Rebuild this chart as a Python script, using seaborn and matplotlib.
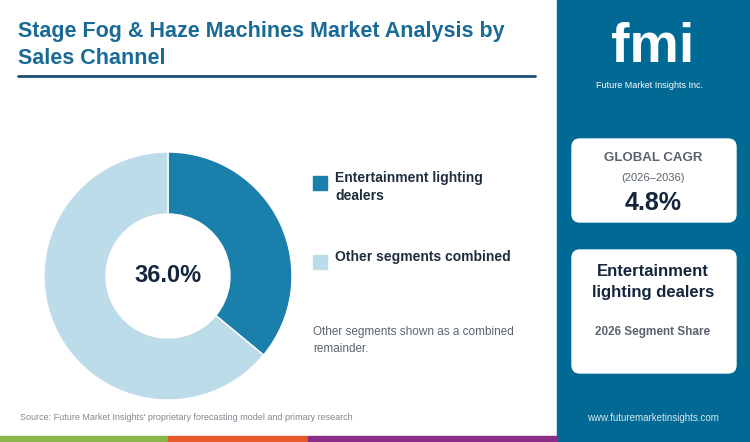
import matplotlib
matplotlib.use("Agg")
import matplotlib.pyplot as plt
import seaborn as sns
from matplotlib.patches import FancyBboxPatch, Rectangle

segments = ["Entertainment lighting dealers", "Other segments combined"]
shares = [36.0, 64.0]
cagr = "4.8%"
colors = ["#1a7fab", "#bcdcea"]

sns.set_theme(style="white")
plt.rcParams["font.family"] = ["Liberation Sans", "DejaVu Sans"]

W, H = 750, 442
fig = plt.figure(figsize=(7.5, 4.42), dpi=100)
fig.patch.set_facecolor("white")
bg = fig.add_axes([0, 0, 1, 1])
bg.set_xlim(0, W)
bg.set_ylim(H, 0)
bg.axis("off")

# right panel
bg.add_patch(Rectangle((557, 0), 193, 442, color="#006994"))
# bottom stripes
for x0, x1, c in [(0, 168, "#8ab54a"), (168, 308, "#e65a2c"), (308, 557, "#8a2d86")]:
    bg.add_patch(Rectangle((x0, 436), x1 - x0, 6, color=c))

bg.text(18, 32, "Stage Fog & Haze Machines Market Analysis by", fontsize=15.5,
        fontweight="bold", color="#1a6a96", va="center")
bg.text(18, 59, "Sales Channel", fontsize=15.5, fontweight="bold", color="#1a6a96", va="center")
bg.plot([18, 535], [76, 76], color="#1d4f73", lw=2)

# legend
bg.add_patch(Rectangle((313, 176), 14, 14, color=colors[0]))
bg.text(335, 178, "Entertainment lighting", fontsize=10, fontweight="bold", color="#1f2d3d", va="center")
bg.text(335, 196, "dealers", fontsize=10, fontweight="bold", color="#1f2d3d", va="center")
bg.add_patch(Rectangle((313, 255), 14, 14, color=colors[1]))
bg.text(335, 257, "Other segments combined", fontsize=10, fontweight="bold", color="#1f2d3d", va="center")
bg.text(313, 332, "Other segments shown as a combined", fontsize=8.5, color="#5a6470", va="center")
bg.text(313, 349, "remainder.", fontsize=8.5, color="#5a6470", va="center")

bg.text(20, 418, "Source: Future Market Insights' proprietary forecasting model and primary research",
        fontsize=6.5, color="#808890", va="center")
bg.text(653, 418, "www.futuremarketinsights.com", fontsize=7, color="#d8e8f0", va="center", ha="center")

# logo
bg.text(653, 48, "fmi", fontsize=40, fontweight="bold", color="white", ha="center", va="center")
bg.text(650, 86, "Future Market Insights Inc.", fontsize=6.5, color="white", ha="center", va="center")

# cards
for y0, h in [(139, 83), (250, 123)]:
    bg.add_patch(FancyBboxPatch((572, y0), 164, h, boxstyle="round,pad=0,rounding_size=8",
                                color="white"))
bg.text(653, 158, "GLOBAL CAGR", fontsize=9.5, fontweight="bold", color="#5a6470", ha="center", va="center")
bg.text(653, 178, "(2026\u20132036)", fontsize=8, color="#5a6470", ha="center", va="center")
bg.text(653, 203, cagr, fontsize=18, fontweight="bold", color="#14253d", ha="center", va="center")
bg.text(653, 272, "Entertainment", fontsize=12, fontweight="bold", color="#14253d", ha="center", va="center")
bg.text(653, 293, "lighting dealers", fontsize=12, fontweight="bold", color="#14253d", ha="center", va="center")
bg.text(653, 332, "2026 Segment Share", fontsize=8.5, fontweight="bold", color="#5a6470", ha="center", va="center")

# donut
cx, cy, r = 168, 276, 124
ax = fig.add_axes([(cx - r) / W, 1 - (cy + r) / H, 2 * r / W, 2 * r / H])
ax.pie(shares, colors=colors, startangle=90, counterclock=False, radius=1,
       wedgeprops=dict(width=0.5, edgecolor="white", linewidth=1))
ax.set_xlim(-1, 1)
ax.set_ylim(-1, 1)
ax.set_aspect("equal")
ax.text(0, 0, f"{shares[0]:.1f}%", fontsize=17, fontweight="bold", color="#14253d", ha="center", va="center")

fig.savefig("out.png", dpi=100, facecolor="white")
